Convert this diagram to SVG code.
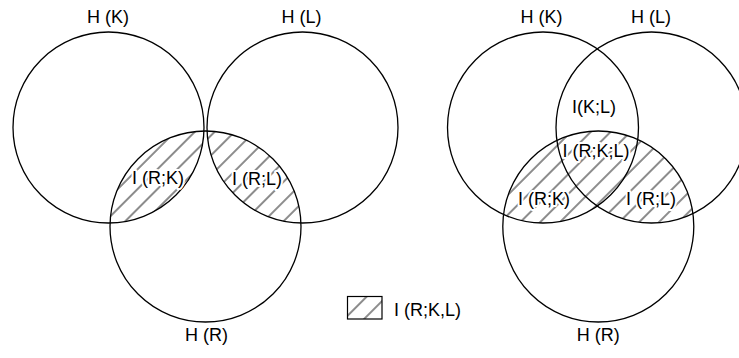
<svg xmlns="http://www.w3.org/2000/svg" width="739" height="358" viewBox="0 0 739 358">
<style>
.c{fill:none;stroke:#000;stroke-width:1.3}
.t{font-family:"Liberation Sans",Arial,sans-serif;font-size:18px;fill:#000;text-anchor:middle}
.i{font-family:"Liberation Sans",Arial,sans-serif;font-size:18px;fill:#000;text-anchor:middle;stroke:#fff;stroke-width:4;paint-order:stroke;stroke-linejoin:round}
.h{fill:url(#hatch);stroke:none}
</style>
<defs>
<pattern id="hatch" patternUnits="userSpaceOnUse" width="14" height="14" patternTransform="rotate(-45)">
<line x1="0" y1="7" x2="14" y2="7" stroke="#000" stroke-width="0.9"/>
</pattern>
<clipPath id="clipLK"><circle cx="108.5" cy="127.5" r="95.5"/></clipPath>
<clipPath id="clipLL"><circle cx="302.5" cy="127.5" r="95.5"/></clipPath>
<clipPath id="clipRKL"><circle cx="543" cy="127.5" r="95.5"/><circle cx="651.5" cy="127.5" r="95.5"/></clipPath>
</defs>
<g id="hatching">
<circle class="h" cx="205.5" cy="226.5" r="95.5" clip-path="url(#clipLK)"/>
<circle class="h" cx="205.5" cy="226.5" r="95.5" clip-path="url(#clipLL)"/>
<circle class="h" cx="598.3" cy="226.5" r="95.5" clip-path="url(#clipRKL)"/>
</g>
<g id="left-HK"><circle class="c" cx="108.5" cy="127.5" r="95.5"/><text class="t" x="108" y="23">H (K)</text></g>
<g id="left-HL"><circle class="c" cx="302.5" cy="127.5" r="95.5"/><text class="t" x="301.5" y="23">H (L)</text></g>
<g id="left-HR"><circle class="c" cx="205.5" cy="226.5" r="95.5"/><text class="t" x="206.5" y="341">H (R)</text></g>
<g id="left-IRK"><text class="i" x="158" y="184">I (R;K)</text></g>
<g id="left-IRL"><text class="i" x="257" y="185">I (R;L)</text></g>
<g id="right-HK"><circle class="c" cx="543" cy="127.5" r="95.5"/><text class="t" x="541.5" y="23">H (K)</text></g>
<g id="right-HL"><circle class="c" cx="651.5" cy="127.5" r="95.5"/><text class="t" x="651" y="23">H (L)</text></g>
<g id="right-HR"><circle class="c" cx="598.3" cy="226.5" r="95.5"/><text class="t" x="598.3" y="341">H (R)</text></g>
<g id="right-IKL"><text class="i" x="594" y="113">I(K;L)</text></g>
<g id="right-IRKL"><text class="i" x="596" y="156.5">I (R;K;L)</text></g>
<g id="right-IRK"><text class="i" x="544" y="205">I (R;K)</text></g>
<g id="right-IRL"><text class="i" x="651" y="205">I (R;L)</text></g>
<g id="legend">
<rect x="347.5" y="296.5" width="34.5" height="22.5" fill="url(#hatch)" stroke="#000" stroke-width="1.2"/>
<text x="394" y="316" font-family="Liberation Sans, Arial, sans-serif" font-size="18" fill="#000">I (R;K,L)</text>
</g>
<g id="connectors"/>
</svg>
